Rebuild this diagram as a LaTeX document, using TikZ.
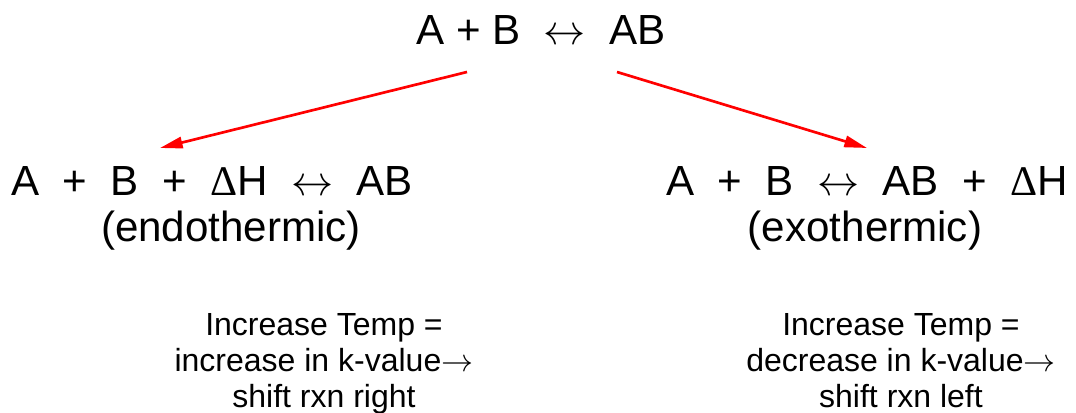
\RequirePackage{fix-cm}
\documentclass[tikz,border=0pt]{standalone}
\usepackage{fontspec}
\setmainfont{Liberation Sans}
\newfontfamily\deltafont{Liberation Serif}
\usepackage{tikz}
\usetikzlibrary{arrows.meta}

\begin{document}
\begin{tikzpicture}
 [x=0.75pt, y=-0.75pt,
  eq node/.style={anchor=base, inner sep=0pt, font=\fontsize{31.6}{35}\selectfont},
  note node/.style={anchor=base, inner sep=0pt, align=center, font=\fontsize{24}{27}\selectfont},
  shift arrow/.style={draw=red, line width=2pt, -{Triangle[length=17pt,width=8.5pt]}}]

\useasboundingbox (0,0) rectangle (1076,413);

\node[eq node] (top) at (541,45) {A + B~~$\leftrightarrow$~~AB};

\node[eq node] (endo) at (212,196) {A~~+~~B~~+~~{\deltafont Δ}H~~$\leftrightarrow$~~AB};
\node[eq node] (endolbl) at (231,242) {(endothermic)};

\node[eq node] (exo) at (867,196) {A~~+~~B~~$\leftrightarrow$~~AB~~+~~{\deltafont Δ}H};
\node[eq node] (exolbl) at (865,242) {(exothermic)};

% base anchor sits on the last line
\node[note node] (endonote) at (324,408) {Increase Temp =\\ increase in k-value$\rightarrow$\\ shift rxn right};
\node[note node] (exonote) at (901,408) {Increase Temp =\\ decrease in k-value$\rightarrow$\\ shift rxn left};

\coordinate (from1) at (467,72);
\coordinate (to1) at (160,148);
\coordinate (from2) at (617,72);
\coordinate (to2) at (867,148);

\path
  (from1) edge [shift arrow] (to1)
  (from2) edge [shift arrow] (to2);

\end{tikzpicture}
\end{document}
